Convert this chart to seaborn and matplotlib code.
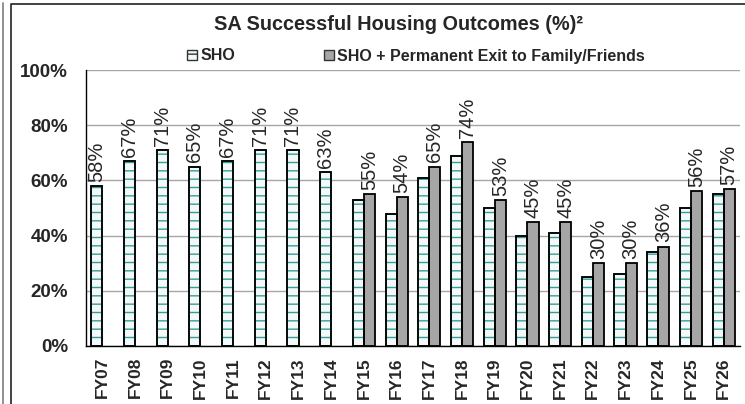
import matplotlib
matplotlib.use("Agg")
import matplotlib.pyplot as plt
from matplotlib.patches import Patch, Rectangle
from matplotlib.lines import Line2D
import seaborn as sns
import pandas as pd
import numpy as np

# Data
years = ["FY07", "FY08", "FY09", "FY10", "FY11", "FY12", "FY13", "FY14", "FY15", "FY16",
         "FY17", "FY18", "FY19", "FY20", "FY21", "FY22", "FY23", "FY24", "FY25", "FY26"]
sho = [58, 67, 71, 65, 67, 71, 71, 63, 53, 48, 61, 69, 50, 40, 41, 25, 26, 34, 50, 55]
sho_plus = [np.nan] * 8 + [55, 54, 65, 74, 53, 45, 45, 30, 30, 36, 56, 57]
series = ["SHO", "SHO + Permanent Exit to Family/Friends"]

df = pd.DataFrame({
    "year": years * 2,
    "series": [series[0]] * len(years) + [series[1]] * len(years),
    "value": sho + sho_plus,
})

sns.set_style("white")
plt.rcParams["font.family"] = ["Liberation Sans", "DejaVu Sans"]
plt.rcParams["hatch.linewidth"] = 1.0

teal = "#3a9c98"
light = "#f2f9f9"
grey = "#a6a6a6"

fig = plt.figure(figsize=(7.45, 4.04), dpi=100)
ax = fig.add_axes([0.1154, 0.1436, 0.8779, 0.6831])

sns.barplot(data=df, x="year", y="value", hue="series", order=years, hue_order=series,
            palette=[light, grey], width=0.68, edgecolor="black", linewidth=1.3,
            legend=False, ax=ax)

# SHO bars: teal dashed fill with a black outline on top
for bar in ax.containers[0]:
    bar.set_edgecolor(teal)
    bar.set_hatch("--")
    ax.add_patch(Rectangle(bar.get_xy(), bar.get_width(), bar.get_height(),
                           fill=False, edgecolor="black", linewidth=1.3, zorder=bar.get_zorder() + 0.1))

# labels: SHO until FY14, then the combined series
for k, cont in enumerate(ax.containers):
    labels = []
    for bar in cont:
        i = int(round(bar.get_x() + bar.get_width() / 2))
        has_plus = not np.isnan(sho_plus[i])
        if (k == 0 and not has_plus) or (k == 1 and has_plus):
            labels.append(f"{bar.get_height():.0f}%")
        else:
            labels.append("")
    ax.bar_label(cont, labels=labels, rotation=90, padding=3, fontsize=14.5)

ax.set_ylim(0, 100)
ax.set_xlim(-0.5, len(years) - 0.5)
ax.set_yticks(range(0, 101, 20))
ax.set_yticklabels([f"{v}%" for v in range(0, 101, 20)], fontsize=13.5, fontweight="bold")
ax.set_xticks(range(len(years)))
ax.set_xticklabels(years, rotation=90, fontsize=12.5, fontweight="bold")
ax.set_xticks(np.arange(-0.5, len(years), 1), minor=True)
ax.tick_params(axis="x", which="major", length=0, pad=8)
ax.tick_params(axis="x", which="minor", length=5, width=1, color="black", direction="out")
ax.tick_params(axis="y", length=5, width=1, color="black", direction="out", pad=8)
ax.set_xlabel("")
ax.set_ylabel("")
ax.yaxis.grid(True, color=grey, linewidth=1)
ax.set_axisbelow(True)
for side in ["top", "right"]:
    ax.spines[side].set_visible(False)
for side in ["left", "bottom"]:
    ax.spines[side].set_color("black")
    ax.spines[side].set_linewidth(1)

fig.text(399 / 745, 1 - 25 / 404, "SA Successful Housing Outcomes (%)²", ha="center", va="center",
         fontsize=14.3, fontweight="bold")

handles = [Patch(facecolor=light, edgecolor="#333333", hatch="--", linewidth=1),
           Patch(facecolor=grey, edgecolor="#333333", linewidth=1)]
fig.legend(handles, series, loc="center", bbox_to_anchor=(416 / 745, 1 - 56 / 404), ncol=2,
           frameon=False, handlelength=0.6, handleheight=0.6, handletextpad=0.2,
           columnspacing=5.6, prop={"weight": "bold", "size": 11.5})

# outer frame lines
fig.add_artist(Line2D([3.5 / 745, 3.5 / 745], [0, 1 - 3 / 404], transform=fig.transFigure,
                      color="#888888", linewidth=1.3))
fig.add_artist(Line2D([10.5 / 745, 10.5 / 745, 1], [0, 1 - 4 / 404, 1 - 4 / 404],
                      transform=fig.transFigure, color="#333333", linewidth=1.3))

fig.savefig("out.png", dpi=100)
